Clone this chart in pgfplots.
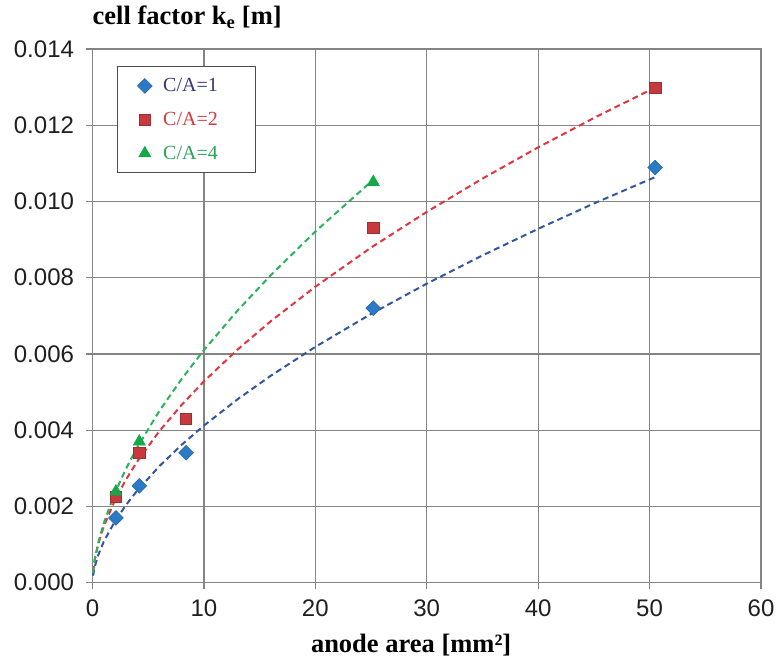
\documentclass[border=0pt]{standalone}
\usepackage{pgfplots}
\pgfplotsset{compat=1.18}
\usepackage{fontspec}
\setmainfont{Liberation Serif}
\setsansfont{Liberation Sans}

\definecolor{gridgray}{RGB}{132,132,132}
\definecolor{bluemark}{RGB}{42,122,198}
\definecolor{blueline}{RGB}{48,86,160}
\definecolor{bluetext}{RGB}{52,56,118}
\definecolor{redmark}{RGB}{198,58,62}
\definecolor{redline}{RGB}{226,52,62}
\definecolor{redtext}{RGB}{204,62,64}
\definecolor{greenmark}{RGB}{22,168,72}
\definecolor{greenline}{RGB}{42,178,92}
\definecolor{greentext}{RGB}{44,160,92}

% measured cell factors (anode area in mm^2, k_e in m)
\pgfplotstableread{
x     y
2.1   0.00170
4.2   0.00254
8.4   0.00341
25.2  0.00720
50.5  0.01089
}\caone
\pgfplotstableread{
x     y
2.1   0.00226
4.2   0.00340
8.4   0.00430
25.2  0.00931
50.5  0.01298
}\catwo
\pgfplotstableread{
x     y
2.1   0.00239
4.2   0.00370
25.2  0.01051
}\cafour

% power-law trend lines
\pgfplotstableread{
x     y
0.05  0.000185
0.2   0.000417
0.5   0.000713
1     0.001070
2     0.001606
3     0.002036
4     0.002410
6     0.003056
8     0.003617
10    0.004121
13    0.004807
16    0.005428
20    0.006186
25    0.007050
30    0.007844
35    0.008585
40    0.009283
45    0.009947
50.5  0.010640
}\fitone
\pgfplotstableread{
x     y
0.05  0.000277
0.2   0.000600
0.5   0.000999
1     0.001468
2     0.002158
3     0.002704
4     0.003173
6     0.003976
8     0.004664
10    0.005281
13    0.006111
16    0.006859
20    0.007764
25    0.008790
30    0.009727
35    0.010600
40    0.011420
45    0.012190
50.5  0.012990
}\fittwo
\pgfplotstableread{
x     y
0.05  0.000262
0.2   0.000598
0.5   0.001031
1     0.001555
2     0.002347
3     0.002986
4     0.003542
6     0.004507
8     0.005344
10    0.006103
13    0.007133
16    0.008067
20    0.009212
25.2  0.010570
}\fitfour

\begin{document}
\begin{tikzpicture}
\useasboundingbox (-92.5pt,-83.3pt) rectangle (686.5pt,582.7pt);
\begin{axis}[
  scale only axis,
  width=668.5pt, height=533.7pt,
  at={(0pt,0pt)}, anchor=south west,
  clip=false,
  xmin=0, xmax=60, ymin=0, ymax=0.014,
  xtick={0,10,20,30,40,50,60},
  ytick={0,0.002,0.004,0.006,0.008,0.010,0.012,0.014},
  scaled y ticks=false,
  yticklabel style={
    /pgf/number format/fixed,
    /pgf/number format/fixed zerofill,
    /pgf/number format/precision=3,
    xshift=-9pt},
  xticklabel style={yshift=-8pt},
  /pgf/number format/assume math mode=true,
  ticklabel style={font=\sffamily\fontsize{24}{28}\selectfont, text=black!88},
  grid=major,
  major grid style={gridgray, line width=1.3pt},
  axis line style={gridgray, line width=1.3pt},
  tick style={gridgray, line width=1.3pt},
  tick align=outside, major tick length=6pt,
  xtick pos=bottom, ytick pos=left,
  legend cell align=left,
  legend style={
    at={(0.0366,0.968)}, anchor=north west,
    draw=black!70, line width=1pt,
    inner xsep=20pt, inner ysep=9pt,
    row sep=13pt,
    font=\fontsize{20}{24}\selectfont,
    nodes={inner sep=3pt},
  },
]
% trend lines
\addplot[forget plot, blueline, line width=2pt, dash pattern=on 6pt off 4pt] table {\fitone};
\addplot[forget plot, redline, line width=2pt, dash pattern=on 6pt off 4pt] table {\fittwo};
\addplot[forget plot, greenline, line width=2pt, dash pattern=on 6pt off 4pt] table {\fitfour};
% measurements
\addplot[only marks, mark=square*, mark size=5.2pt, mark options={rotate=45, fill=bluemark, draw=bluemark!85!black, line width=0.6pt}] table {\caone};
\addlegendentry{\makebox[77pt][l]{\hspace*{8pt}\textcolor{bluetext}{C/A=1}}}
\addplot[only marks, mark=square*, mark size=5.7pt, mark options={fill=redmark, draw=redmark!80!black, line width=0.6pt}] table {\catwo};
\addlegendentry{\makebox[77pt][l]{\hspace*{8pt}\textcolor{redtext}{C/A=2}}}
\addplot[only marks, mark=triangle*, mark size=7pt, mark options={fill=greenmark, draw=greenmark, line width=0.6pt}] table {\cafour};
\addlegendentry{\makebox[77pt][l]{\hspace*{8pt}\textcolor{greentext}{C/A=4}}}
% axis titles
\node[anchor=base west, inner sep=0pt, font=\bfseries\fontsize{26.5}{30}\selectfont]
  at (rel axis cs:0,1) [yshift=24pt] {cell factor k\textsubscript{e} [m]};
\node[anchor=base, inner sep=0pt, font=\bfseries\fontsize{26.5}{30}\selectfont]
  at (axis cs:28.6,0) [yshift=-70.3pt] {anode area [mm²]};
\end{axis}
\end{tikzpicture}
\end{document}
